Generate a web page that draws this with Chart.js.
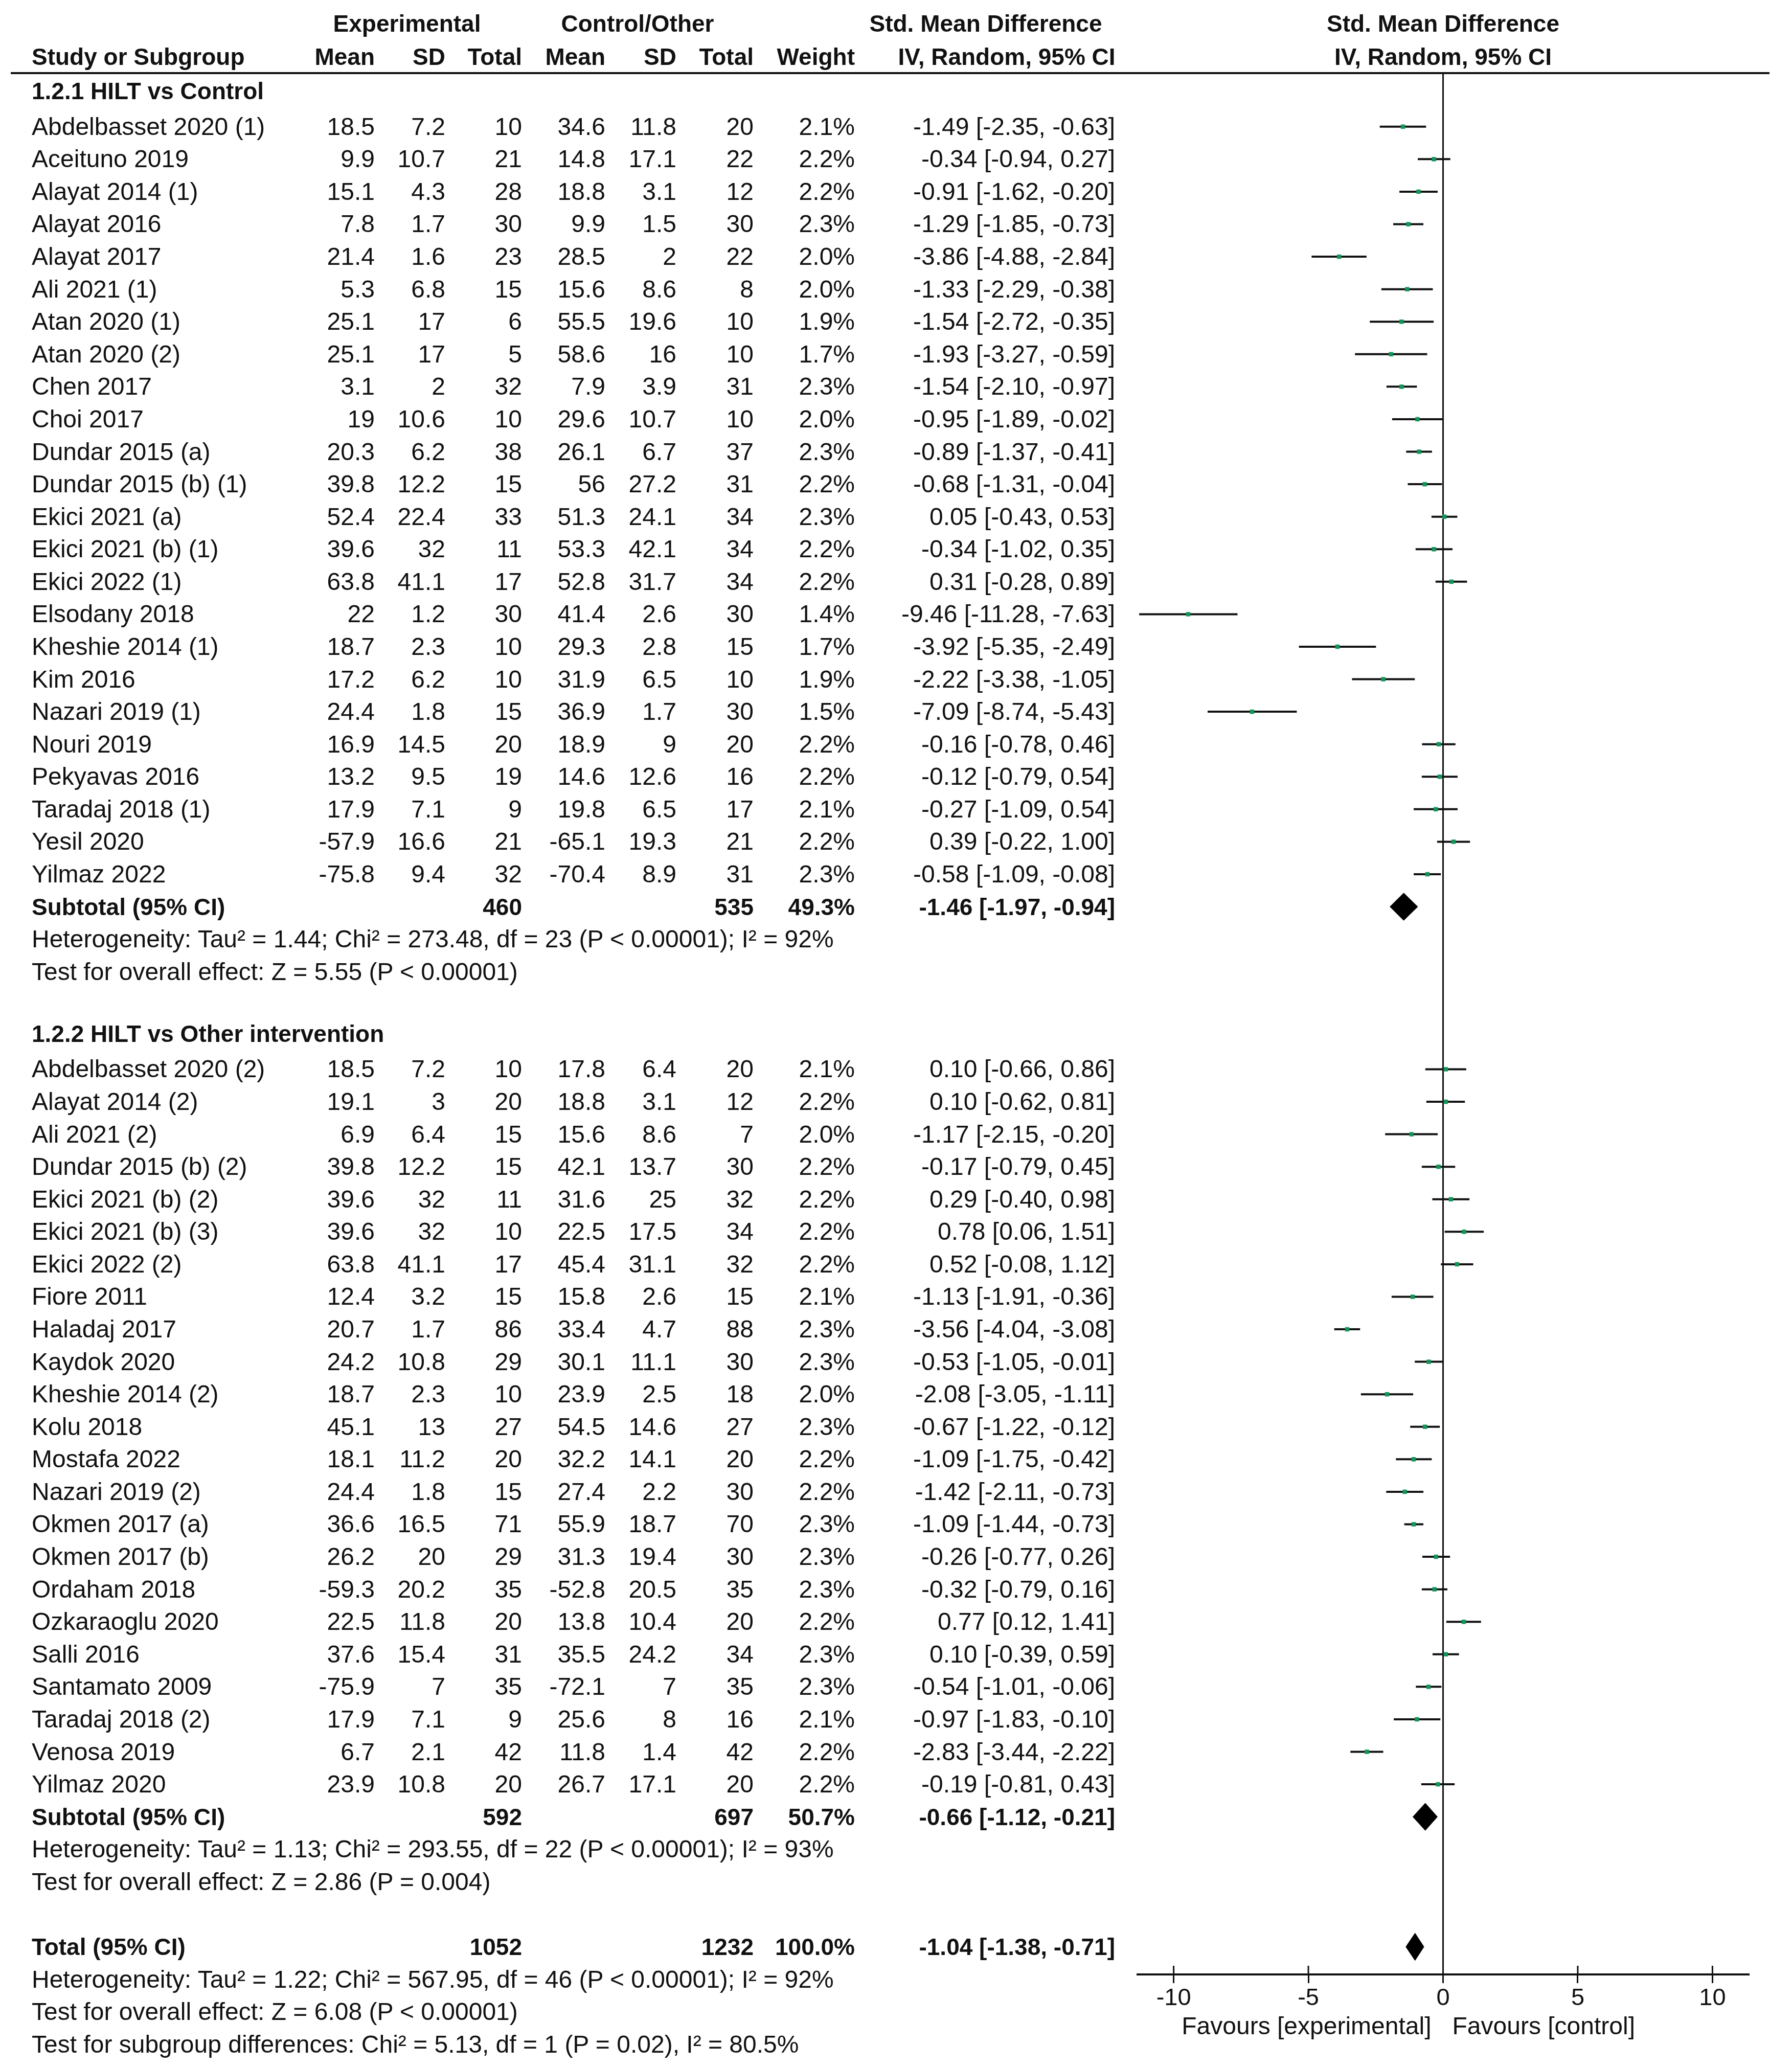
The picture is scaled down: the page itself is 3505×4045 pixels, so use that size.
<!DOCTYPE html>
<html>
<head>
<meta charset="utf-8">
<title>Forest plot</title>
<script src="https://cdn.jsdelivr.net/npm/chart.js@4.4.1/dist/chart.umd.min.js"></script>
<style>
  html, body { margin: 0; padding: 0; background: #fff; }
  #page { position: relative; width: 3505px; height: 4045px; overflow: hidden;
          font-family: "Liberation Sans", Arial, sans-serif; color: #111; }
  #plot { position: absolute; left: 0; top: 0; }
  .t { position: absolute; white-space: nowrap; font-size: 48px; line-height: 60px; height: 60px; }
  .b { font-weight: bold; font-size: 46px; }
  #rule { position: absolute; left: 21px; width: 3440px; top: 141px; height: 4px; background: #111; }
</style>
</head>
<body>
<div id="page">
  <canvas id="plot" width="3505" height="4045"></canvas>
  <div id="rule"></div>
</div>
<script>
// study data (both subgroups, in table order)
const studyNames = [
  'Abdelbasset 2020 (1)', 'Aceituno 2019', 'Alayat 2014 (1)', 'Alayat 2016', 'Alayat 2017', 'Ali 2021 (1)',
  'Atan 2020 (1)', 'Atan 2020 (2)', 'Chen 2017', 'Choi 2017', 'Dundar 2015 (a)', 'Dundar 2015 (b) (1)',
  'Ekici 2021 (a)', 'Ekici 2021 (b) (1)', 'Ekici 2022 (1)', 'Elsodany 2018', 'Kheshie 2014 (1)', 'Kim 2016',
  'Nazari 2019 (1)', 'Nouri 2019', 'Pekyavas 2016', 'Taradaj 2018 (1)', 'Yesil 2020', 'Yilmaz 2022',
  'Abdelbasset 2020 (2)', 'Alayat 2014 (2)', 'Ali 2021 (2)', 'Dundar 2015 (b) (2)', 'Ekici 2021 (b) (2)',
  'Ekici 2021 (b) (3)', 'Ekici 2022 (2)', 'Fiore 2011', 'Haladaj 2017', 'Kaydok 2020', 'Kheshie 2014 (2)',
  'Kolu 2018', 'Mostafa 2022', 'Nazari 2019 (2)', 'Okmen 2017 (a)', 'Okmen 2017 (b)', 'Ordaham 2018',
  'Ozkaraoglu 2020', 'Salli 2016', 'Santamato 2009', 'Taradaj 2018 (2)', 'Venosa 2019', 'Yilmaz 2020'
];
const expMean = [18.5, 9.9, 15.1, 7.8, 21.4, 5.3, 25.1, 25.1, 3.1, 19, 20.3, 39.8, 52.4, 39.6, 63.8, 22, 18.7, 17.2,
  24.4, 16.9, 13.2, 17.9, -57.9, -75.8,
  18.5, 19.1, 6.9, 39.8, 39.6, 39.6, 63.8, 12.4, 20.7, 24.2, 18.7, 45.1, 18.1, 24.4, 36.6, 26.2, -59.3, 22.5,
  37.6, -75.9, 17.9, 6.7, 23.9];
const expSD = [7.2, 10.7, 4.3, 1.7, 1.6, 6.8, 17, 17, 2, 10.6, 6.2, 12.2, 22.4, 32, 41.1, 1.2, 2.3, 6.2,
  1.8, 14.5, 9.5, 7.1, 16.6, 9.4,
  7.2, 3, 6.4, 12.2, 32, 32, 41.1, 3.2, 1.7, 10.8, 2.3, 13, 11.2, 1.8, 16.5, 20, 20.2, 11.8,
  15.4, 7, 7.1, 2.1, 10.8];
const expN = [10, 21, 28, 30, 23, 15, 6, 5, 32, 10, 38, 15, 33, 11, 17, 30, 10, 10, 15, 20, 19, 9, 21, 32,
  10, 20, 15, 15, 11, 10, 17, 15, 86, 29, 10, 27, 20, 15, 71, 29, 35, 20, 31, 35, 9, 42, 20];
const ctlMean = [34.6, 14.8, 18.8, 9.9, 28.5, 15.6, 55.5, 58.6, 7.9, 29.6, 26.1, 56, 51.3, 53.3, 52.8, 41.4, 29.3, 31.9,
  36.9, 18.9, 14.6, 19.8, -65.1, -70.4,
  17.8, 18.8, 15.6, 42.1, 31.6, 22.5, 45.4, 15.8, 33.4, 30.1, 23.9, 54.5, 32.2, 27.4, 55.9, 31.3, -52.8, 13.8,
  35.5, -72.1, 25.6, 11.8, 26.7];
const ctlSD = [11.8, 17.1, 3.1, 1.5, 2, 8.6, 19.6, 16, 3.9, 10.7, 6.7, 27.2, 24.1, 42.1, 31.7, 2.6, 2.8, 6.5,
  1.7, 9, 12.6, 6.5, 19.3, 8.9,
  6.4, 3.1, 8.6, 13.7, 25, 17.5, 31.1, 2.6, 4.7, 11.1, 2.5, 14.6, 14.1, 2.2, 18.7, 19.4, 20.5, 10.4,
  24.2, 7, 8, 1.4, 17.1];
const ctlN = [20, 22, 12, 30, 22, 8, 10, 10, 31, 10, 37, 31, 34, 34, 34, 30, 15, 10, 30, 20, 16, 17, 21, 31,
  20, 12, 7, 30, 32, 34, 32, 15, 88, 30, 18, 27, 20, 30, 70, 30, 35, 20, 34, 35, 16, 42, 20];
const weight = [2.1, 2.2, 2.2, 2.3, 2.0, 2.0, 1.9, 1.7, 2.3, 2.0, 2.3, 2.2, 2.3, 2.2, 2.2, 1.4, 1.7, 1.9,
  1.5, 2.2, 2.2, 2.1, 2.2, 2.3,
  2.1, 2.2, 2.0, 2.2, 2.2, 2.2, 2.2, 2.1, 2.3, 2.3, 2.0, 2.3, 2.2, 2.2, 2.3, 2.3, 2.3, 2.2,
  2.3, 2.3, 2.1, 2.2, 2.2];
const smd = [-1.49, -0.34, -0.91, -1.29, -3.86, -1.33, -1.54, -1.93, -1.54, -0.95, -0.89, -0.68, 0.05, -0.34, 0.31,
  -9.46, -3.92, -2.22, -7.09, -0.16, -0.12, -0.27, 0.39, -0.58,
  0.10, 0.10, -1.17, -0.17, 0.29, 0.78, 0.52, -1.13, -3.56, -0.53, -2.08, -0.67, -1.09, -1.42, -1.09, -0.26,
  -0.32, 0.77, 0.10, -0.54, -0.97, -2.83, -0.19];
const ciLow = [-2.35, -0.94, -1.62, -1.85, -4.88, -2.29, -2.72, -3.27, -2.10, -1.89, -1.37, -1.31, -0.43, -1.02, -0.28,
  -11.28, -5.35, -3.38, -8.74, -0.78, -0.79, -1.09, -0.22, -1.09,
  -0.66, -0.62, -2.15, -0.79, -0.40, 0.06, -0.08, -1.91, -4.04, -1.05, -3.05, -1.22, -1.75, -2.11, -1.44, -0.77,
  -0.79, 0.12, -0.39, -1.01, -1.83, -3.44, -0.81];
const ciHigh = [-0.63, 0.27, -0.20, -0.73, -2.84, -0.38, -0.35, -0.59, -0.97, -0.02, -0.41, -0.04, 0.53, 0.35, 0.89,
  -7.63, -2.49, -1.05, -5.43, 0.46, 0.54, 0.54, 1.00, -0.08,
  0.86, 0.81, -0.20, 0.45, 0.98, 1.51, 1.12, -0.36, -3.08, -0.01, -1.11, -0.12, -0.42, -0.73, -0.73, 0.26,
  0.16, 1.41, 0.59, -0.06, -0.10, -2.22, 0.43];

// subgroups
const groupLabels = ['1.2.1 HILT vs Control', '1.2.2 HILT vs Other intervention'];
const groupSizes = [24, 23];
const subExpN = [460, 592];
const subCtlN = [535, 697];
const subWeight = [49.3, 50.7];
const subSmd = [-1.46, -0.66];
const subLow = [-1.97, -1.12];
const subHigh = [-0.94, -0.21];
const subHetText = [
  'Heterogeneity: Tau² = 1.44; Chi² = 273.48, df = 23 (P < 0.00001); I² = 92%',
  'Heterogeneity: Tau² = 1.13; Chi² = 293.55, df = 22 (P < 0.00001); I² = 93%'
];
const subEffectText = [
  'Test for overall effect: Z = 5.55 (P < 0.00001)',
  'Test for overall effect: Z = 2.86 (P = 0.004)'
];

// overall
const totalExpN = 1052;
const totalCtlN = 1232;
const totalSmd = -1.04;
const totalLow = -1.38;
const totalHigh = -0.71;
const footerText = [
  'Heterogeneity: Tau² = 1.22; Chi² = 567.95, df = 46 (P < 0.00001); I² = 92%',
  'Test for overall effect: Z = 6.08 (P < 0.00001)',
  'Test for subgroup differences: Chi² = 5.13, df = 1 (P = 0.02), I² = 80.5%'
];

const xTicks = [-10, -5, 0, 5, 10];
const favoursLeft = 'Favours [experimental]';
const favoursRight = 'Favours [control]';

// row index of every line in the table
const studyRows = [];
const groupRows = [];
const subRows = [];
let row = 0;
groupSizes.forEach((n, g) => {
  groupRows.push(row);
  for (let i = 0; i < n; i++) studyRows.push(row + 1 + i);
  subRows.push(row + n + 1);
  row += n + 5; // subtotal, heterogeneity, effect, blank
});
const totalRow = row;

const fmt2 = v => v.toFixed(2);
const ciText = (m, l, h) => `${fmt2(m)} [${fmt2(l)}, ${fmt2(h)}]`;

// datasets
const datasets = [];
datasets.push({
  label: 'studies',
  data: smd.map((v, i) => ({ x: v, y: studyRows[i] })),
  pointStyle: 'rect',
  pointRadius: 6,
  pointBackgroundColor: '#13955a',
  pointBorderWidth: 0,
  order: 0
});
smd.forEach((v, i) => {
  datasets.push({
    type: 'line',
    data: [{ x: ciLow[i], y: studyRows[i] }, { x: ciHigh[i], y: studyRows[i] }],
    borderColor: '#111',
    borderWidth: 4,
    pointRadius: 0,
    fill: false,
    order: 1
  });
});
const diamond = (m, l, h, r) => ({
  type: 'line',
  data: [{ x: l, y: r }, { x: m, y: r - 0.42 }, { x: h, y: r }, { x: m, y: r + 0.42 }, { x: l, y: r }],
  borderColor: '#000',
  backgroundColor: '#000',
  borderWidth: 1,
  pointRadius: 0,
  tension: 0,
  fill: 'shape',
  order: 1
});
subSmd.forEach((m, g) => datasets.push(diamond(m, subLow[g], subHigh[g], subRows[g])));
datasets.push(diamond(totalSmd, totalLow, totalHigh, totalRow));

// ticks also reach above the axis line
const tickMarks = {
  id: 'tickMarks',
  afterDraw(chart) {
    const sx = chart.scales.x;
    const y0 = chart.chartArea.bottom;
    const ctx = chart.ctx;
    ctx.save();
    ctx.strokeStyle = '#111';
    ctx.lineWidth = 3;
    sx.ticks.forEach((t, i) => {
      const px = sx.getPixelForTick(i);
      ctx.beginPath();
      ctx.moveTo(px, y0 - 17);
      ctx.lineTo(px, y0);
      ctx.stroke();
    });
    ctx.restore();
  }
};

const chart = new Chart(document.getElementById('plot'), {
  type: 'scatter',
  data: { datasets },
  options: {
    responsive: false,
    animation: false,
    devicePixelRatio: 1,
    layout: { padding: { top: 143, left: 2225, right: 85, bottom: 0 } },
    plugins: { legend: { display: false }, tooltip: { enabled: false } },
    scales: {
      x: {
        type: 'linear',
        min: -11.34,
        max: 11.34,
        afterFit: scale => { scale.height = 183; },
        afterBuildTicks: scale => { scale.ticks = xTicks.map(v => ({ value: v })); },
        ticks: {
          includeBounds: false,
          padding: 2,
          color: '#111',
          font: { family: 'Liberation Sans', size: 47 },
          callback: v => String(v)
        },
        grid: {
          drawOnChartArea: true,
          color: c => (c.tick && c.tick.value === 0 ? '#111' : 'rgba(0,0,0,0)'),
          lineWidth: 3,
          tickColor: '#111',
          tickWidth: 3,
          tickLength: 17
        },
        border: { display: true, color: '#111', width: 4 }
      },
      y: {
        type: 'linear',
        reverse: true,
        min: -0.648,
        max: 57.85,
        display: false
      }
    }
  },
  plugins: [tickMarks]
});

// table text placed on the chart's own row scale
const page = document.getElementById('page');
const addText = (txt, x, yc, align, bold) => {
  const d = document.createElement('div');
  d.className = bold ? 't b' : 't';
  d.textContent = txt;
  d.style.top = (yc - 30) + 'px';
  if (align === 'left') {
    d.style.left = x + 'px';
  } else {
    d.style.left = (x - 1200) + 'px';
    d.style.width = (align === 'right' ? 1200 : 2400) + 'px';
    d.style.textAlign = align;
  }
  page.appendChild(d);
};
const yPx = r => chart.scales.y.getPixelForValue(r);
const zeroPx = chart.scales.x.getPixelForValue(0);

const cols = { name: 62, eMean: 733, eSD: 871, eN: 1021, cMean: 1184, cSD: 1323, cN: 1474, w: 1672, ci: 2181 };

// headings
addText('Experimental', 796, 46, 'center', true);
addText('Control/Other', 1247, 46, 'center', true);
addText('Std. Mean Difference', 1928, 46, 'center', true);
addText('Std. Mean Difference', zeroPx, 46, 'center', true);
addText('Study or Subgroup', cols.name, 111, 'left', true);
addText('Mean', cols.eMean, 111, 'right', true);
addText('SD', cols.eSD, 111, 'right', true);
addText('Total', cols.eN, 111, 'right', true);
addText('Mean', cols.cMean, 111, 'right', true);
addText('SD', cols.cSD, 111, 'right', true);
addText('Total', cols.cN, 111, 'right', true);
addText('Weight', cols.w, 111, 'right', true);
addText('IV, Random, 95% CI', 1969, 111, 'center', true);
addText('IV, Random, 95% CI', zeroPx, 111, 'center', true);

// study rows
studyNames.forEach((name, i) => {
  const y = yPx(studyRows[i]);
  addText(name, cols.name, y, 'left');
  addText(String(expMean[i]), cols.eMean, y, 'right');
  addText(String(expSD[i]), cols.eSD, y, 'right');
  addText(String(expN[i]), cols.eN, y, 'right');
  addText(String(ctlMean[i]), cols.cMean, y, 'right');
  addText(String(ctlSD[i]), cols.cSD, y, 'right');
  addText(String(ctlN[i]), cols.cN, y, 'right');
  addText(weight[i].toFixed(1) + '%', cols.w, y, 'right');
  addText(ciText(smd[i], ciLow[i], ciHigh[i]), cols.ci, y, 'right');
});

// subgroup rows
groupLabels.forEach((label, g) => {
  addText(label, cols.name, yPx(groupRows[g]) - 6, 'left', true);
  const y = yPx(subRows[g]);
  addText('Subtotal (95% CI)', cols.name, y, 'left', true);
  addText(String(subExpN[g]), cols.eN, y, 'right', true);
  addText(String(subCtlN[g]), cols.cN, y, 'right', true);
  addText(subWeight[g].toFixed(1) + '%', cols.w, y, 'right', true);
  addText(ciText(subSmd[g], subLow[g], subHigh[g]), cols.ci, y, 'right', true);
  addText(subHetText[g], cols.name, yPx(subRows[g] + 1), 'left');
  addText(subEffectText[g], cols.name, yPx(subRows[g] + 2), 'left');
});

// total
const yt = yPx(totalRow);
addText('Total (95% CI)', cols.name, yt, 'left', true);
addText(String(totalExpN), cols.eN, yt, 'right', true);
addText(String(totalCtlN), cols.cN, yt, 'right', true);
addText('100.0%', cols.w, yt, 'right', true);
addText(ciText(totalSmd, totalLow, totalHigh), cols.ci, yt, 'right', true);
footerText.forEach((txt, k) => addText(txt, cols.name, yPx(totalRow + 1 + k), 'left'));

// axis captions either side of zero
addText(favoursLeft, zeroPx - 23, 3963, 'right');
addText(favoursRight, zeroPx + 18, 3963, 'left');
</script>
</body>
</html>
